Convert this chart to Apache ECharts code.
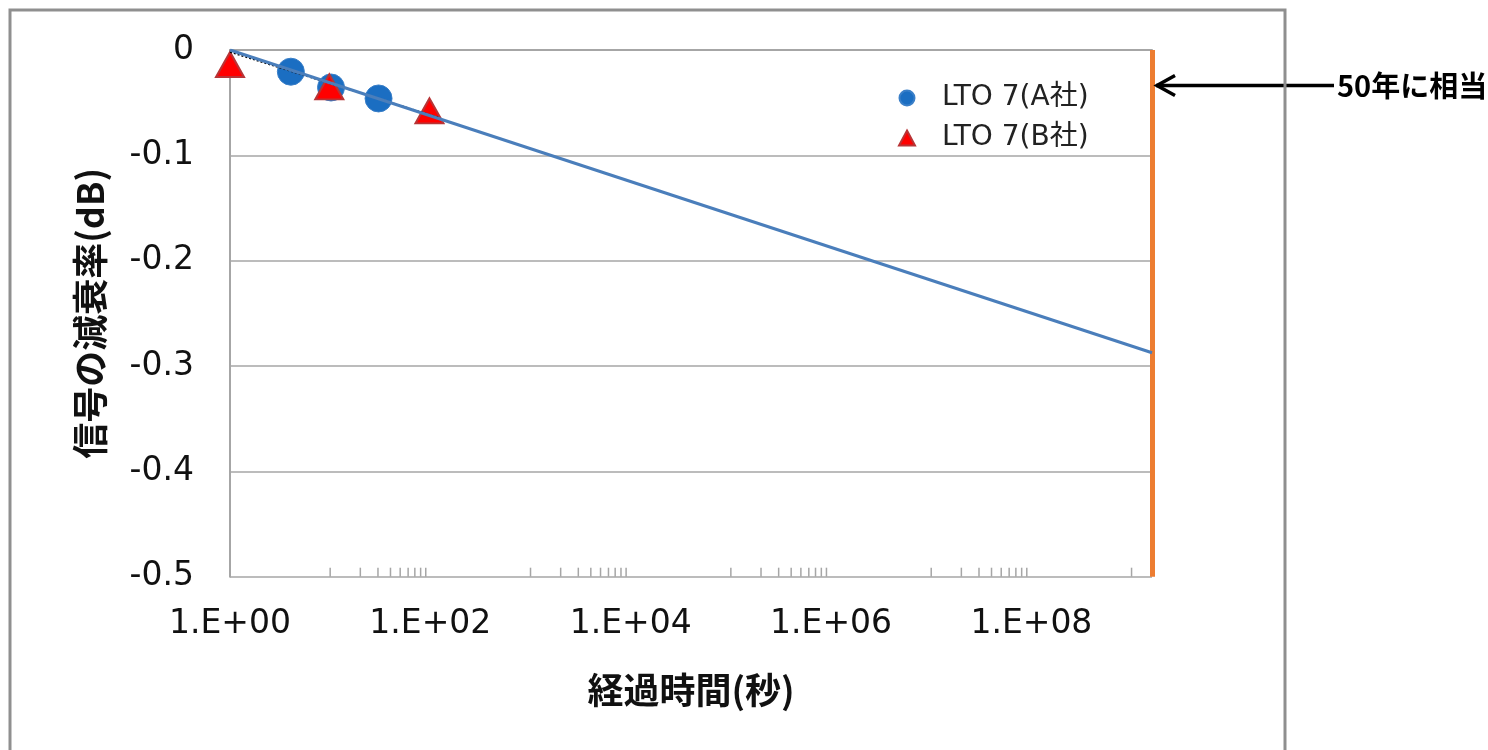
<!DOCTYPE html>
<html>
<head>
<meta charset="utf-8">
<script src="https://cdn.jsdelivr.net/npm/echarts@6/dist/echarts.min.js"></script>
<style>
  html, body { margin: 0; padding: 0; background: #fff; }
  #chart { width: 1488px; height: 750px; }
</style>
</head>
<body>
<div id="chart"></div>
<script>
// Elapsed time (s) vs. signal attenuation (dB)
const seriesAName = 'LTO 7(A社)';
const seriesBName = 'LTO 7(B社)';
const seriesA = [[4.05, -0.0206], [10.2, -0.0356], [30.4, -0.046]];
const seriesB = [[1, -0.0138], [9.8, -0.035], [98, -0.0578]];
// fitted trend out to the right end of the axis (about 50 years)
const trendLine = [[1, 0], [1.6e9, -0.2874]];
const trendLineB = [[1, -0.002], [120, -0.064]];
const xMin = 1;
const xMax = 1.6e9;          // right end of the time axis, marked in orange
const yMin = -0.5, yMax = 0, yStep = 0.1;
const xLabelExponents = [0, 2, 4, 6, 8];
const minorTickDecades = [1, 3, 5, 7];
const noteText = '50年に相当';
const noteY = -0.033;

// minor tick positions along the log axis
const minorTicks = [];
minorTickDecades.forEach(e => { for (let k = 1; k <= 9; k++) minorTicks.push(k * Math.pow(10, e)); });
minorTicks.push(1e9);

const latin = '"DejaVu Sans", Verdana, sans-serif';
const cjk = '"Noto Sans CJK JP", sans-serif';
const gray = '#a6a6a6';

const chart = echarts.init(document.getElementById('chart'));
chart.setOption({
  animation: false,
  backgroundColor: '#fff',
  grid: { left: 230, right: 336, top: 50, bottom: 173.3, containLabel: false },
  legend: {
    orient: 'vertical', left: 893, top: 79, itemGap: 12,
    itemWidth: 16, itemHeight: 15,
    textStyle: { fontFamily: latin + ',' + cjk, fontSize: 28, color: '#222', padding: [0, 0, 0, 22] },
    data: [{ name: seriesAName, icon: 'circle' }, { name: seriesBName, icon: 'triangle' }]
  },
  xAxis: {
    type: 'log', logBase: 10, min: xMin, max: xMax,
    name: '経過時間(秒)', nameLocation: 'middle', nameGap: 96,
    nameTextStyle: { fontFamily: cjk, fontWeight: 'bold', fontSize: 36, color: '#111' },
    axisLine: { show: true, lineStyle: { color: gray, width: 2 } },
    axisTick: { show: false },
    splitLine: { show: false },
    axisLabel: {
      margin: 31, fontFamily: latin, fontSize: 33, color: '#111', showMaxLabel: false,
      formatter: v => {
        const e = Math.log10(v), r = Math.round(e);
        if (Math.abs(e - r) > 1e-6 || xLabelExponents.indexOf(r) < 0) return '';
        return '1.E+' + String(r).padStart(2, '0');
      }
    }
  },
  yAxis: {
    type: 'value', min: yMin, max: yMax, interval: yStep,
    name: '信号の減衰率(dB)', nameLocation: 'middle', nameGap: 122, nameRotate: 90,
    nameTextStyle: { fontFamily: cjk, fontWeight: 'bold', fontSize: 36, color: '#111' },
    axisLine: { show: true, lineStyle: { color: gray, width: 2 } },
    axisTick: { show: false },
    splitLine: { show: true, lineStyle: { color: gray, width: 1.5 } },
    axisLabel: {
      margin: 36, fontFamily: latin, fontSize: 33, color: '#111',
      formatter: v => (Math.abs(v) < 1e-9 ? '0' : v.toFixed(1))
    }
  },
  series: [
    {
      type: 'custom', name: 'minorTicks', silent: true, z: 3,
      data: minorTicks.map(v => [v, yMin]),
      renderItem: (params, api) => {
        const p = api.coord([api.value(0), api.value(1)]);
        return { type: 'line', shape: { x1: p[0], y1: p[1], x2: p[0], y2: p[1] - 9 },
                 style: { stroke: gray, lineWidth: 1.5 } };
      }
    },
    {
      type: 'scatter', name: seriesAName, data: seriesA, z: 4,
      symbol: 'circle', symbolSize: 27,
      itemStyle: { color: '#1b6ec2', borderColor: '#3a7fc8', borderWidth: 1, opacity: 1 }
    },
    {
      type: 'scatter', name: seriesBName, data: seriesB, z: 5,
      symbol: 'triangle', symbolSize: [28, 25],
      itemStyle: { color: '#ff0000', borderColor: '#b83436', borderWidth: 2, opacity: 1 }
    },
    {
      type: 'line', name: 'trendB', data: trendLineB, z: 6, silent: true,
      symbol: 'none', lineStyle: { color: '#000', width: 1.5, type: [2, 2] }
    },
    {
      type: 'line', name: 'trend', data: trendLine, z: 7, silent: true,
      symbol: 'none', lineStyle: { color: '#4a7ebb', width: 3 },
      markLine: {
        silent: true, symbol: 'none', label: { show: false },
        lineStyle: { color: '#ed7d31', width: 5, type: 'solid' },
        data: [{ xAxis: xMax }]
      }
    }
  ]
});

// note with arrow pointing at the 50-year line
const tip = chart.convertToPixel({ gridIndex: 0 }, [xMax, noteY]);
const ax = tip[0] + 4, ay = Math.round(tip[1]) + 0.5;
chart.setOption({
  graphic: [
    { type: 'line', shape: { x1: ax, y1: ay, x2: 1334, y2: ay }, style: { stroke: '#000', lineWidth: 3.5 }, z: 50 },
    { type: 'polyline', shape: { points: [[ax + 19, ay - 10], [ax + 1, ay], [ax + 19, ay + 10]] },
      style: { stroke: '#000', lineWidth: 3.5, fill: 'none' }, z: 50 },
    { type: 'text', x: 1337, y: ay, z: 50,
      style: { text: noteText, font: 'bold 29px ' + cjk, fill: '#000', verticalAlign: 'middle' } },
    { type: 'rect', shape: { x: 10, y: 10, width: 1275, height: 800 },
      style: { fill: 'none', stroke: '#8f8f8f', lineWidth: 3 }, z: 100 }
  ]
});
</script>
</body>
</html>
